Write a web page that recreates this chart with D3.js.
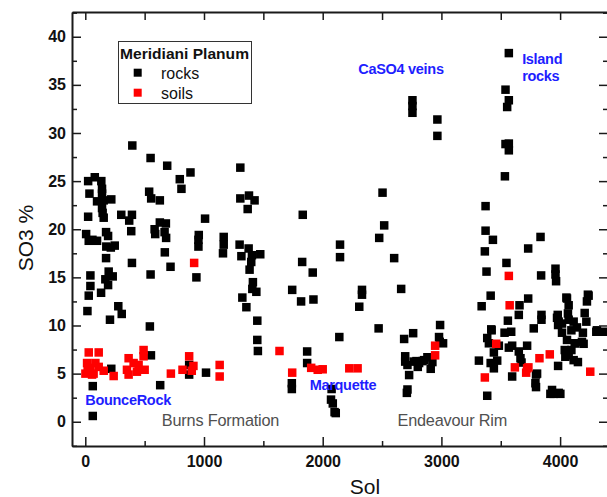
<!DOCTYPE html>
<html><head><meta charset="utf-8">
<script src="https://cdn.jsdelivr.net/npm/d3@7"></script>
<style>
html,body{margin:0;padding:0;background:#fff;}
svg{display:block;font-family:"Liberation Sans",Arial,sans-serif;}
</style></head>
<body><svg id="c" width="607" height="497"></svg>
<script>
// ---- data (Sol, SO3 %) ----
const rocks = [
[396,28.7],[550,27.4],[690,26.6],[886,25.9],[796,25.2],[810,24.2],
[24,25.0],[80,25.4],[135,25.0],[35,23.7],[141,24.2],[141,23.7],[99,22.9],[155,23.0],[219,23.1],[141,22.2],[146,21.7],[155,21.2],[24,21.3],
[538,23.9],[555,23.2],[628,23.0],[303,21.5],[393,21.5],[370,20.9],[628,20.7],[679,20.6],[1009,21.1],
[7,19.5],[29,18.8],[99,18.8],[60,18.9],[175,19.7],[192,19.3],[177,18.2],[248,18.3],[215,18.1],[387,19.8],[584,20.0],[589,19.5],[668,19.7],[681,19.1],[953,18.9],[953,18.2],[956,19.4],
[175,17.0],[393,16.5],[670,17.6],[718,16.1],[936,15.0],[550,15.3],[43,15.2],[43,14.1],[29,13.1],[197,15.6],[231,15.1],[169,14.8],[192,14.2],[133,13.4],[18,11.5],[208,10.6],[278,12.0],[307,11.2],[544,9.9],
[553,6.9],[63,3.7],[631,3.8],[63,0.6],[219,5.5],[875,5.9],[875,4.9],[1017,5.1],
[1166,19.2],[1166,18.4],[1160,17.5],[1306,26.4],[1306,23.2],[1379,23.5],[1426,23.0],[1368,22.1],[1300,18.4],[1376,18.0],[1315,17.2],[1404,17.3],[1474,17.4],[1398,16.6],[1384,15.8],[1412,14.5],[1407,13.8],[1441,13.5],[1323,12.9],[1357,11.9],[1449,10.5],[1449,8.5],[1454,7.35],
[1743,13.7],[1818,12.5],[1922,12.7],[1832,21.5],[1827,16.6],[1916,15.5],[1740,4.0],[1740,3.4],[1869,7.3],[1869,6.1],[2146,18.4],[2146,17.1],[2140,8.8],
[2075,3.4],[2070,2.3],[2085,1.9],[2100,1.0],[2110,0.9],
[2331,13.7],[2331,13.2],[2308,11.95],[2504,23.8],[2518,20.4],[2476,19.1],[2602,17.0],[2661,13.8],[2471,9.7],
[2756,33.4],[2756,32.8],[2756,32.1],[2966,31.4],[2966,29.7],
[2686,8.6],[2762,9.2],[2695,6.8],[2695,6.25],[2714,5.9],[2728,4.85],[2714,3.35],[2709,3.0],[2770,6.25],[2790,6.3],[2801,5.7],[2812,6.1],[2840,6.3],[2854,6.4],[2882,6.7],[2910,5.5],[2924,6.2],[2989,10.05],[2980,8.8],[2986,8.3],[3014,8.15],
[3568,38.3],[3540,34.5],[3568,33.4],[3554,32.7],[3540,28.85],[3568,28.9],[3568,28.2],[3535,25.5],[3372,22.4],[3372,19.85],[3434,18.9],[3835,19.2],[3731,18.0],[3366,17.7],[3548,16.5],[3380,15.6],[3840,15.2],[3961,15.9],[3961,15.3],[3966,14.6],[3415,13.1],[3731,12.8],[4053,12.9],[4240,13.1],
[3339,12.0],[3658,12.1],[3652,11.1],[3560,10.5],[3420,9.6],[3532,9.25],[3588,9.35],[3386,8.7],[3400,8.15],[3484,7.9],[3568,7.7],[3596,7.9],[3442,7.2],[3470,6.35],[3316,6.35],[3415,6.1],[3442,5.55],[3652,7.3],[3722,7.9],[3666,6.6],[3675,6.15],[3596,4.7],[3797,4.9],[3792,4.0],[3797,3.6],[3386,2.7],[3983,5.8],[3932,3.3],[3988,3.0],[3946,2.9],[3918,2.9],[4002,2.9],
[3843,11.1],[3843,10.6],[3778,9.7],[3980,11.1],[3988,10.4],[3983,10.05],[4058,12.8],[4072,12.1],[4066,11.25],[4234,13.2],[4226,12.5],[4207,11.3],[4221,10.4],[4016,10.2],[4072,10.6],[4114,10.4],[4016,9.25],[4095,9.5],[4142,9.8],[4192,9.25],[4305,9.35],[4366,9.35],[4058,8.5],[4123,8.15],[4184,8.3],[4039,7.45],[4095,7.45],[4044,6.75],[4114,6.4],[4150,6.2],[4128,8.15],[4198,8.1],[4072,6.9],[4310,9.5],[3974,10.8],[3806,5.0],[3423,9.5]
];
const soils = [
[917,16.5],[29,7.2],[113,7.2],[1,5.0],[57,4.9],[85,6.1],[15,6.1],[155,5.3],[239,4.75],[113,5.7],[43,5.6],[20,5.3],[70,5.0],
[365,6.6],[351,5.4],[365,4.9],[435,5.2],[500,5.4],[491,7.45],[491,6.8],[407,6.1],[449,5.9],
[721,5.0],[819,5.4],[875,6.8],[911,5.8],[897,5.3],[1132,5.9],[1132,4.7],[1636,7.35],[1743,5.1],
[1903,5.6],[1958,5.4],[2000,5.45],[2224,5.55],[2294,5.55],[2947,7.9],[2947,6.9],
[3568,15.15],[3575,12.1],[3462,8.1],[3619,5.65],[3722,5.55],[3714,5.1],[3366,4.6],[3826,6.6],[3913,7.0],[4254,5.2],[3733,5.65]
];
const xTicks = [0,1000,2000,3000,4000];
const yTicks = [0,5,10,15,20,25,30,35,40];
const legendTitle = "Meridiani Planum";
const seriesNames = ["rocks","soils"];
const seriesColors = ["#000000","#ff0000"];
const annotations = [
  {t:"CaSO4 veins", x:2300, y:36.1, c:"blue"},
  {t:"Island", x:3680, y:37.2, c:"blue"},
  {t:"rocks", x:3680, y:35.4, c:"blue"},
  {t:"BounceRock", x:0, y:1.7, c:"blue"},
  {t:"Marquette", x:1890, y:3.35, c:"blue"},
  {t:"Burns Formation", x:645, y:-0.45, c:"gray"},
  {t:"Endeavour Rim", x:2630, y:-0.45, c:"gray"}
];

const L=72, R=607, T=12, B=446;
const svg = d3.select("#c");
const x = d3.scaleLinear().domain([-112,4395]).range([L,R]);
const y = d3.scaleLinear().domain([-2.52,42.57]).range([B,T]);

// points
const sz = 8.5;
function drawPts(data,color){
  svg.append("g").selectAll("rect").data(data).join("rect")
    .attr("x",d=>x(d[0])-sz/2).attr("y",d=>y(d[1])-sz/2)
    .attr("width",sz).attr("height",sz).attr("fill",color);
}
drawPts(rocks,seriesColors[0]);
drawPts(soils,seriesColors[1]);

// axes
const ax = "#1a1a1a";
function style(g){
  g.selectAll(".tick line").attr("stroke",ax).attr("stroke-width",1.5);
  g.selectAll(".domain").attr("stroke",ax).attr("stroke-width",2);
}
const xMinor = d3.range(-0,4500,500).filter(v=>v%1000!==0);
const yMinor = d3.range(-2.5,42.6,2.5).filter(v=>Math.abs(v%5)>0.1);
const fmt = d3.format("d");

// bottom
const gb = svg.append("g").attr("transform",`translate(0,${B})`)
  .call(d3.axisBottom(x).tickValues(xTicks).tickFormat(fmt).tickSize(-9).tickPadding(9.6).tickSizeOuter(0));
gb.selectAll("text").attr("font-size",16).attr("font-weight","bold").attr("fill","#111").attr("font-family","Liberation Sans, Arial");
style(gb);
const gbm = svg.append("g").attr("transform",`translate(0,${B})`)
  .call(d3.axisBottom(x).tickValues(xMinor).tickSize(-5).tickFormat("").tickSizeOuter(0));
gbm.select(".domain").remove(); style(gbm);

// top
const gt = svg.append("g").attr("transform",`translate(0,${T})`)
  .call(d3.axisTop(x).tickValues(xTicks.concat(xMinor)).tickSize(-8).tickFormat("").tickSizeOuter(0));
style(gt);

// left
const gl = svg.append("g").attr("transform",`translate(${L},0)`)
  .call(d3.axisLeft(y).tickValues(yTicks).tickFormat(fmt).tickSize(-9).tickPadding(6).tickSizeOuter(0));
gl.selectAll("text").attr("font-size",16).attr("font-weight","bold").attr("fill","#111").attr("font-family","Liberation Sans, Arial");
style(gl);
const glm = svg.append("g").attr("transform",`translate(${L},0)`)
  .call(d3.axisLeft(y).tickValues(yMinor).tickSize(-5).tickFormat("").tickSizeOuter(0));
glm.select(".domain").remove(); style(glm);

// right
const gr = svg.append("g").attr("transform",`translate(${R},0)`)
  .call(d3.axisRight(y).tickValues(yTicks).tickSize(-8).tickFormat("").tickSizeOuter(0));
gr.select(".domain").remove(); style(gr);
const grm = svg.append("g").attr("transform",`translate(${R},0)`)
  .call(d3.axisRight(y).tickValues(yMinor).tickSize(-4).tickFormat("").tickSizeOuter(0));
grm.select(".domain").remove(); style(grm);

// axis titles
svg.append("text").attr("x",365).attr("y",494).attr("text-anchor","middle")
  .attr("font-size",21).attr("fill","#111").text("Sol");
svg.append("text").attr("transform","translate(33,238) rotate(-90)").attr("text-anchor","middle")
  .attr("font-size",21).attr("fill","#111").text("SO3 %");

// legend
const lg = svg.append("g");
lg.append("rect").attr("x",118.5).attr("y",41.5).attr("width",133).attr("height",62)
  .attr("fill","#fff").attr("stroke","#333").attr("stroke-width",1);
lg.append("text").attr("x",120).attr("y",58.5).attr("font-size",14.5).attr("font-weight","bold")
  .attr("fill","#111").attr("textLength",129).attr("lengthAdjust","spacingAndGlyphs").text(legendTitle);
seriesNames.forEach((n,i)=>{
  const yy = 72.7 + i*20;
  lg.append("rect").attr("x",137.7-4).attr("y",yy-4).attr("width",8).attr("height",8).attr("fill",seriesColors[i]);
  lg.append("text").attr("x",161).attr("y",yy+6).attr("font-size",16).attr("fill","#111").text(n);
});

// annotations
annotations.forEach(a=>{
  const blue = a.c==="blue";
  svg.append("text").attr("x",x(a.x)).attr("y",y(a.y))
    .attr("font-size",blue?14.5:16.3).attr("font-weight",blue?"bold":"normal")
    .attr("fill",blue?"#1e1eff":"#505050")
    .attr("letter-spacing",blue?"-0.3":"-0.2")
    .text(a.t);
});
</script></body></html>
